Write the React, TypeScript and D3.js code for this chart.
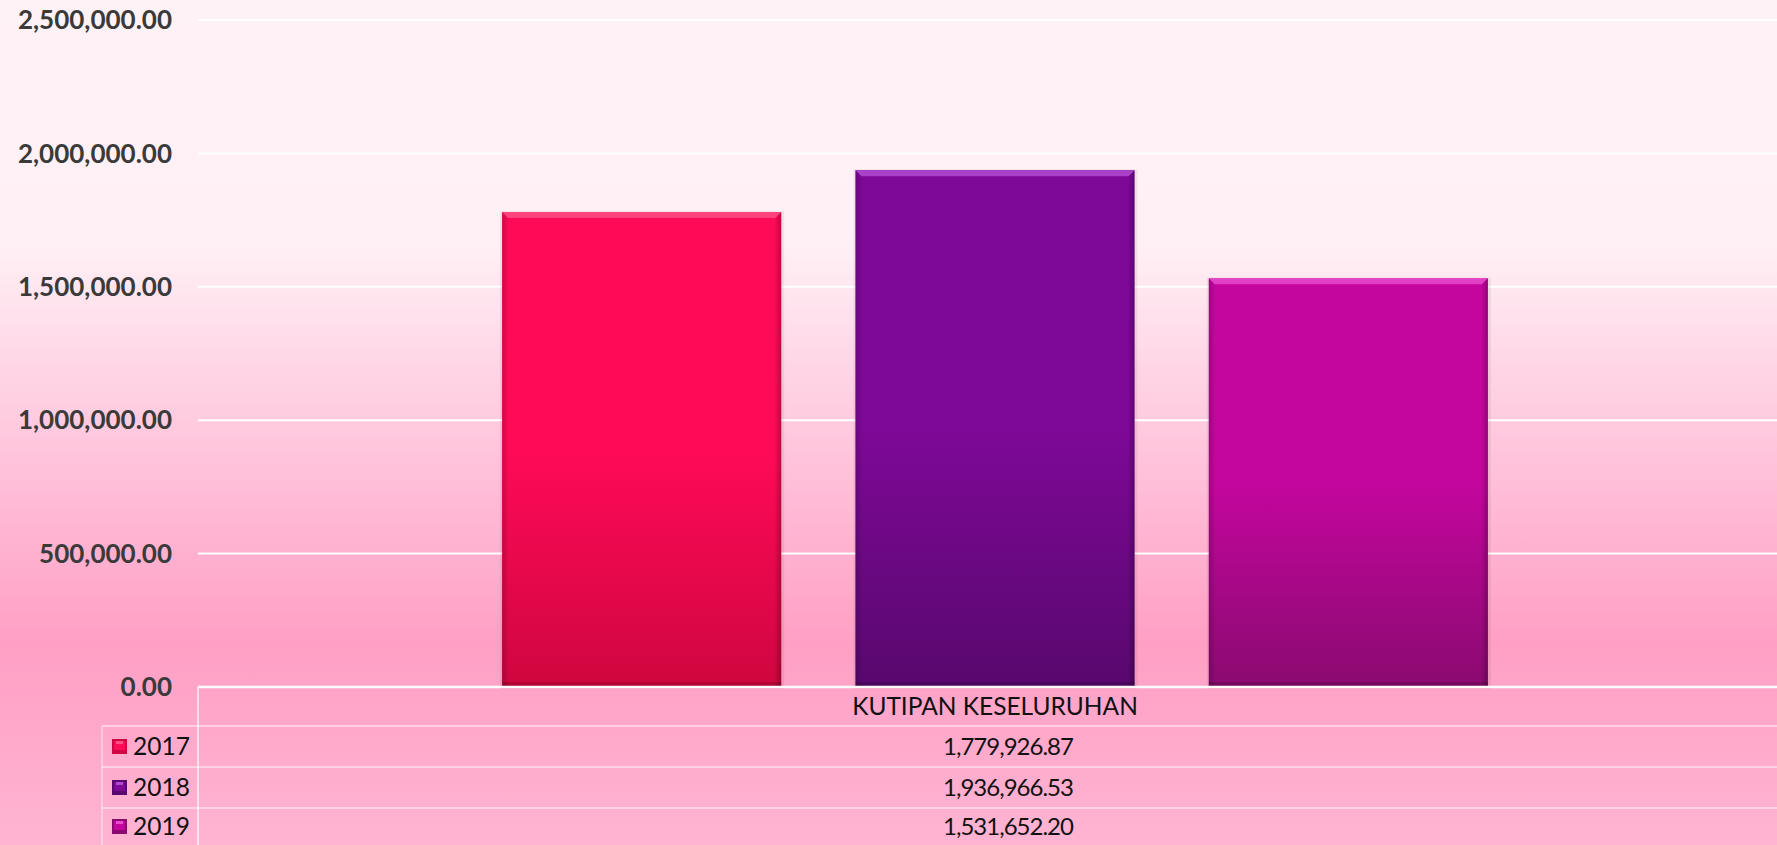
import React from "react";
import * as d3 from "d3";

// data
const categories = ["KUTIPAN KESELURUHAN"];
const years = ["2017", "2018", "2019"];
const values = [1779926.87, 1936966.53, 1531652.2];
const yTicks = [0, 500000, 1000000, 1500000, 2000000, 2500000];

const colorsTop = ["#ff0a57", "#7e0897", "#c4069e"];
const colorsBottom = ["#cf063f", "#58086e", "#8a0a70"];
const colorsLight = ["#ff4d86", "#b24ad0", "#e84ccc"];

const W = 1777, H = 845;
const margin = { left: 198, right: -15, top: 20, bottom: 158 };
const rowH = [39, 41, 41, 37];
const tableLeft = 102;

const fmt = d3.format(",.2f");

export default function App() {
  const y = d3.scaleLinear().domain([0, 2500000]).range([H - margin.bottom, margin.top]);
  const x0 = d3.scaleBand().domain(categories).range([margin.left, W - margin.right]).padding(0.2012);
  const x1 = d3.scaleBand().domain(years).range([0, x0.bandwidth()]).paddingInner(0.21).paddingOuter(0.105);

  const base = y(0);
  const rowTops: number[] = [];
  let acc = base;
  rowH.forEach(h => { rowTops.push(acc); acc += h; });
  const catCenter = x0(categories[0])! + x0.bandwidth() / 2;

  return (
    <svg width={W} height={H} style={{ position: "fixed", left: 0, top: 0 }}>
      <defs>
        <linearGradient id="bg" x1="0" y1="0" x2="0" y2="1">
          <stop offset="0" stopColor="#fff2f6" />
          <stop offset="0.29" stopColor="#fff0f5" />
          <stop offset="0.43" stopColor="#ffd6e6" />
          <stop offset="0.58" stopColor="#ffbdd7" />
          <stop offset="0.76" stopColor="#ff9fc5" />
          <stop offset="1" stopColor="#ffb4d2" />
        </linearGradient>
        {years.map((yr, i) => (
          <linearGradient key={yr} id={"bar" + i} x1="0" y1="0" x2="0" y2="1">
            <stop offset="0" stopColor={colorsTop[i]} />
            <stop offset="0.5" stopColor={colorsTop[i]} />
            <stop offset="1" stopColor={colorsBottom[i]} />
          </linearGradient>
        ))}
        <linearGradient id="side" x1="0" y1="0" x2="1" y2="0">
          <stop offset="0" stopColor="#000" stopOpacity="0.18" />
          <stop offset="0.025" stopColor="#000" stopOpacity="0" />
          <stop offset="0.975" stopColor="#000" stopOpacity="0" />
          <stop offset="1" stopColor="#000" stopOpacity="0.25" />
        </linearGradient>
      </defs>
      <rect x={0} y={0} width={W} height={H} fill="url(#bg)" />

      {/* gridlines + y labels */}
      {yTicks.map(t => (
        <g key={t}>
          {t > 0 && <line x1={margin.left} x2={W} y1={y(t)} y2={y(t)} stroke="#ffffff" strokeWidth={2} />}
          <text x={172} y={y(t)} dy="0.35em" textAnchor="end" fontFamily="Lato, 'DejaVu Sans', sans-serif"
            fontWeight={700} fontSize={26} fill="#3a3a3a">{fmt(t)}</text>
        </g>
      ))}

      {/* bars */}
      {values.map((v, i) => {
        const bx = x0(categories[0])! + x1(years[i])!;
        const bw = x1.bandwidth();
        const by = y(v);
        const bh = base - by;
        return (
          <g key={years[i]}>
            <rect x={bx - 2} y={by - 1} width={bw + 5} height={bh + 3} fill="#000" opacity={0.06} />
            <rect x={bx} y={by} width={bw} height={bh} fill={"url(#bar" + i + ")"} />
            <rect x={bx} y={by} width={bw} height={bh} fill="url(#side)" />
            <path d={`M${bx},${by}H${bx + bw}L${bx + bw - 6},${by + 6}H${bx + 6}Z`} fill={colorsLight[i]} opacity={0.85} />
            <rect x={bx} y={base - 5} width={bw} height={5} fill="#000" opacity={0.15} />
          </g>
        );
      })}

      {/* data table */}
      <line x1={margin.left} x2={W} y1={base} y2={base} stroke="#ffffff" strokeWidth={2.5} />
      <line x1={margin.left} x2={margin.left} y1={base} y2={H} stroke="#ffffff" strokeOpacity={0.8} strokeWidth={1.5} />
      <line x1={tableLeft} x2={tableLeft} y1={rowTops[1]} y2={H} stroke="#ffffff" strokeOpacity={0.6} strokeWidth={1.2} />
      {rowTops.slice(1).map((ry, i) => (
        <line key={i} x1={tableLeft} x2={W} y1={ry} y2={ry} stroke="#ffffff" strokeOpacity={0.6} strokeWidth={1.5} />
      ))}
      <text x={catCenter} y={rowTops[0] + rowH[0] / 2} dy="0.36em" textAnchor="middle"
        fontFamily="Lato, 'DejaVu Sans', sans-serif" fontSize={24.5} fill="#111">{categories[0]}</text>
      {years.map((yr, i) => {
        const cy = rowTops[i + 1] + rowH[i + 1] / 2;
        return (
          <g key={yr}>
            <rect x={112} y={cy - 7.5} width={15} height={15} fill={colorsBottom[i]} />
            <rect x={114} y={cy - 5.5} width={11} height={9} fill={colorsTop[i]} />
            <rect x={116} y={cy - 5.5} width={7} height={3} fill={colorsLight[i]} />
            <text x={133} y={cy} dy="0.36em" fontFamily="Lato, 'DejaVu Sans', sans-serif" fontSize={24.5} fill="#111">{yr}</text>
            <text x={catCenter + 13} y={cy} dy="0.36em" textAnchor="middle" fontFamily="Lato, 'DejaVu Sans', sans-serif"
              fontSize={24} letterSpacing={-1} fill="#111">{fmt(values[i])}</text>
          </g>
        );
      })}
    </svg>
  );
}
